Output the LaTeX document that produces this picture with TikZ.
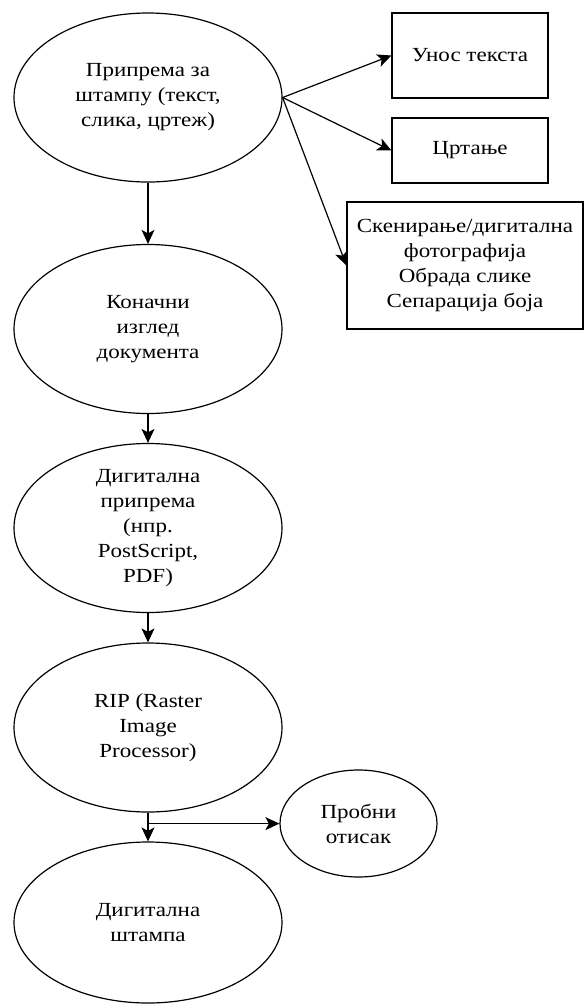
\documentclass[tikz,border=0pt]{standalone}
\usepackage{fontspec}
\setmainfont{Liberation Serif}[FakeStretch=1.15]
\usetikzlibrary{arrows.meta,positioning,calc,shapes.geometric}

\begin{document}
\begin{tikzpicture}[>={Stealth[length=14pt,width=13pt,inset=3.5pt]},x=1pt,y=-1pt,line width=1.2pt,
  stage/.style={ellipse,draw,inner sep=0pt,minimum width=268pt,minimum height=169pt,align=center,font=\fontsize{20}{25}\selectfont},
  task/.style={rectangle,draw,inner sep=0pt,align=center,font=\fontsize{20}{25}\selectfont}]
\useasboundingbox (0,0) rectangle (584,1005);
% main chain
\node[stage] (prep) at (148,97.5) {Припрема за\\штампу (текст,\\слика, цртеж)};
\node[stage] (final) at (148,329) {Коначни\\изглед\\документа};
\node[stage] (digprep) at (148,528) {Дигитална\\припрема\\(нпр.\\PostScript,\\PDF)};
\node[stage] (rip) at (148,727.5) {RIP (Raster\\Image\\Processor)};
\node[stage,minimum height=161pt] (print) at (148,922.5) {Дигитална\\штампа};
\node[stage,minimum width=157pt,minimum height=107pt] (proof) at (358.5,823.5) {Пробни\\отисак};
% side tasks
\node[task,minimum width=156pt,minimum height=85pt] (typing) at (470,55.5) {Унос текста};
\node[task,minimum width=156pt,minimum height=65pt] (drawing) at (470,150.5) {Цртање};
\node[task,minimum width=236pt,minimum height=127pt] (scan) at (465,265.5) {Скенирање/дигитална\\фотографија\\Обрада слике\\Сепарација боја};
\draw[->] (prep)--(final);\draw[->] (final)--(digprep);\draw[->] (digprep)--(rip);\draw[->] (rip)--(print);
\draw[->] (prep.east)--(typing.west);\draw[->] (prep.east)--(drawing.west);\draw[->] (prep.east)--(scan.west);
\coordinate (fork) at ($(rip.south)+(0,11)$);
\draw[->] (fork)--(fork-|proof.west);
\end{tikzpicture}
\end{document}
